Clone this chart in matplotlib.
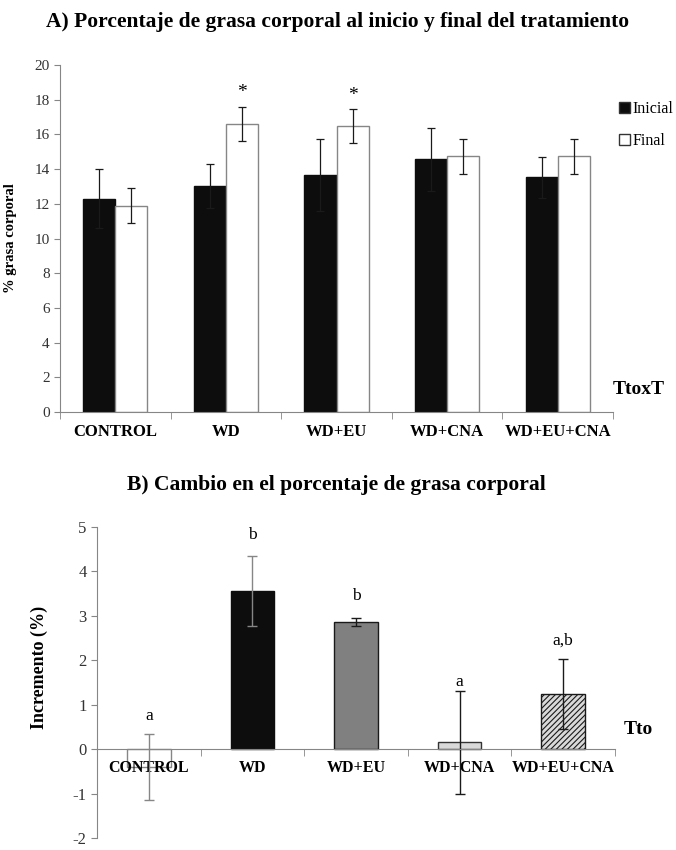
import matplotlib
matplotlib.use('Agg')
import matplotlib.pyplot as plt
import numpy as np

plt.rcParams['font.family'] = ['Liberation Serif', 'DejaVu Serif']
plt.rcParams['hatch.linewidth'] = 0.8
plt.rcParams['axes.unicode_minus'] = False

# ---- data, panel A ----
grupos = ['CONTROL', 'WD', 'WD+EU', 'WD+CNA', 'WD+EU+CNA']
inicial = [12.28, 13.03, 13.64, 14.56, 13.52]
inicial_err = [1.7, 1.25, 2.07, 1.8, 1.2]
final = [11.9, 16.6, 16.48, 14.73, 14.73]
final_err = [1.0, 1.0, 1.0, 1.0, 1.0]
estrellas = ['', '*', '*', '', '']

# ---- data, panel B ----
incremento = [-0.41, 3.56, 2.86, 0.15, 1.24]
incremento_err = [0.74, 0.79, 0.09, 1.15, 0.78]
letras = ['a', 'b', 'b', 'a', 'a,b']
letras_y = [0.75, 4.83, 3.45, 1.5, 2.44]

gris = '#868686'
W, H = 676, 850
fig = plt.figure(figsize=(W / 100, H / 100), dpi=100)

# ---------------- A ----------------
ax1 = fig.add_axes([60 / W, (H - 412) / H, 553 / W, 347 / H])
x = np.arange(len(grupos))
bw = 0.29
ax1.bar(x - bw / 2, inicial, bw, color='#0d0d0d', edgecolor='#0d0d0d', label='Inicial')
ax1.bar(x + bw / 2, final, bw, color='white', edgecolor=gris, linewidth=1.0, label='Final')
ax1.errorbar(x - bw / 2, inicial, yerr=inicial_err, fmt='none', ecolor='#1a1a1a',
             elinewidth=0.9, capsize=3, capthick=0.9)
ax1.errorbar(x + bw / 2, final, yerr=final_err, fmt='none', ecolor='#1a1a1a',
             elinewidth=0.9, capsize=3, capthick=0.9)
for i, s in enumerate(estrellas):
    if s:
        ax1.text(x[i] + bw / 2, final[i] + final_err[i] + 0.3, s, ha='center',
                 va='bottom', fontsize=14)

ax1.set_xlim(-0.5, 4.5)
ax1.set_ylim(0, 20)
ax1.set_yticks(range(0, 21, 2))
ax1.set_xticks(x)
ax1.set_xticklabels(grupos, fontweight='bold', fontsize=12)
ax1.set_xticks(np.arange(-0.5, 5, 1), minor=True)
ax1.tick_params(axis='x', which='major', length=0, pad=9)
ax1.tick_params(axis='x', which='minor', length=5, color=gris, direction='out')
ax1.tick_params(axis='y', length=4, color=gris, labelsize=11, labelcolor='#333333')
for sp in ['top', 'right']:
    ax1.spines[sp].set_visible(False)
for sp in ['left', 'bottom']:
    ax1.spines[sp].set_color(gris)
ax1.set_ylabel('% grasa corporal', fontweight='bold', fontsize=10.5)
ax1.yaxis.set_label_coords(-0.078, 0.5)
leg = ax1.legend(loc='upper left', bbox_to_anchor=(1.0, 0.915), frameon=False,
                 fontsize=11.5, handlelength=0.65, handleheight=0.65, handletextpad=0.15,
                 labelspacing=1.0, borderaxespad=0)
for p in leg.get_patches():
    p.set_edgecolor('#333333')
ax1.text(1.0, 0.065, 'TtoxT', transform=ax1.transAxes, fontsize=14,
         fontweight='bold', ha='left', va='center')
fig.text(0.5, (H - 22) / H, 'A) Porcentaje de grasa corporal al inicio y final del tratamiento',
         ha='center', va='center', fontsize=15.5, fontweight='bold')

# ---------------- B ----------------
ax2 = fig.add_axes([97 / W, (H - 838) / H, 518 / W, 311 / H])
bw2 = 0.42
colores = ['white', '#0d0d0d', '#808080', '#d9d9d9', '#d9d9d9']
bordes = [gris, '#0d0d0d', '#1a1a1a', '#333333', '#1a1a1a']
tramas = ['', '', '', '', '//////']
barras = ax2.bar(x, incremento, bw2, color=colores, edgecolor=bordes, linewidth=1.0)
for b, h in zip(barras, tramas):
    b.set_hatch(h)
ecol = [gris, gris, '#1a1a1a', '#1a1a1a', '#1a1a1a']
for i in range(len(grupos)):
    ax2.errorbar(x[i], incremento[i], yerr=incremento_err[i], fmt='none',
                 ecolor=ecol[i], elinewidth=1.0, capsize=3.5, capthick=1.0)
    ax2.text(x[i], letras_y[i], letras[i], ha='center', va='center', fontsize=12.5)

ax2.set_xlim(-0.5, 4.5)
ax2.set_ylim(-2, 5)
ax2.set_yticks(range(-2, 6))
ax2.spines['bottom'].set_position(('data', 0))
ax2.set_xticks(x)
ax2.set_xticklabels(grupos, fontweight='bold', fontsize=11.5)
ax2.set_xticks(np.arange(-0.5, 5, 1), minor=True)
ax2.tick_params(axis='x', which='major', length=0, pad=8)
ax2.tick_params(axis='x', which='minor', length=5, color=gris, direction='out')
ax2.tick_params(axis='y', length=4, color=gris, labelsize=12, labelcolor='#333333')
for sp in ['top', 'right']:
    ax2.spines[sp].set_visible(False)
for sp in ['left', 'bottom']:
    ax2.spines[sp].set_color(gris)
ax2.set_ylabel('Incremento (%)', fontweight='bold', fontsize=13)
ax2.yaxis.set_label_coords(-0.095, 0.55)
ax2.text(4.58, 0.45, 'Tto', fontsize=14, fontweight='bold', ha='left', va='center')
fig.text(336 / W, (H - 485) / H, 'B) Cambio en el porcentaje de grasa corporal',
         ha='center', va='center', fontsize=15.5, fontweight='bold')

fig.savefig('out.png', dpi=100)
